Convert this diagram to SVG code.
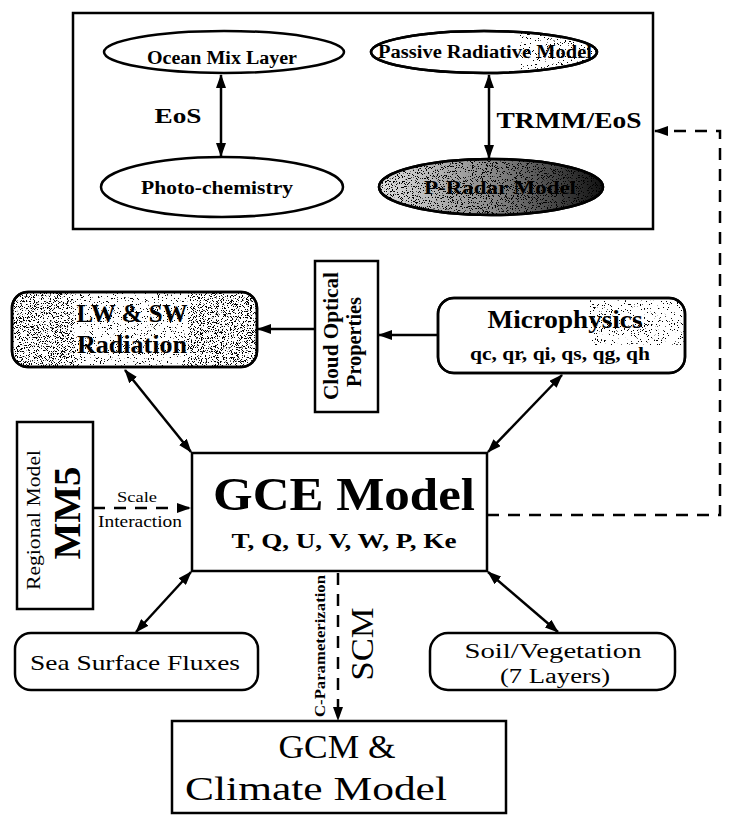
<svg xmlns="http://www.w3.org/2000/svg" width="731" height="815" viewBox="0 0 731 815">
<defs>
<marker id="ah" viewBox="0 0 14 10" refX="13" refY="5" markerWidth="14" markerHeight="10" markerUnits="userSpaceOnUse" orient="auto-start-reverse"><path d="M0,0 L14,5 L0,10 Z" fill="#000"/></marker>
<filter id="spkL" x="0" y="0" width="1" height="1"><feTurbulence type="fractalNoise" baseFrequency="1.3" numOctaves="2" seed="4"/><feColorMatrix type="matrix" values="0 0 0 0 0 0 0 0 0 0 0 0 0 0 0 -30 0 0 0 10.2"/><feComposite in2="SourceGraphic" operator="in"/></filter>
<filter id="spkD" x="0" y="0" width="1" height="1"><feTurbulence type="fractalNoise" baseFrequency="1.2" numOctaves="2" seed="7"/><feColorMatrix type="matrix" values="0 0 0 0 0 0 0 0 0 0 0 0 0 0 0 -30 0 0 0 12"/><feComposite in2="SourceGraphic" operator="in"/></filter>
<linearGradient id="pr" x1="0" y1="0" x2="1" y2="0"><stop offset="0" stop-color="#e0e0e0"/><stop offset="0.5" stop-color="#8a8a8a"/><stop offset="1" stop-color="#111"/></linearGradient>
<clipPath id="lwc"><rect x="12" y="292" width="245" height="75" rx="16"/></clipPath>
<clipPath id="mpc"><rect x="438" y="298" width="247" height="75" rx="16"/></clipPath>
<clipPath id="pac"><ellipse cx="484" cy="52" rx="113" ry="21"/></clipPath>
</defs>
<style>
.s{fill:#fff;stroke:#000;stroke-width:2.5}
.o{fill:none;stroke:#000;stroke-width:2.5}
.c{stroke:#000;stroke-width:2.5;fill:none}
.d{stroke-dasharray:12 9}
text{font-family:"Liberation Serif","Times New Roman",serif;fill:#000}
.bd{font-weight:bold}
</style>
<rect width="731" height="815" fill="#fff"/>

<g id="top-frame"><rect x="73" y="13" width="580" height="216" class="o"/></g>

<g id="ocean">
<ellipse cx="224" cy="52" rx="120" ry="21" class="s"/>
<text x="222" y="64" font-size="18" class="bd" text-anchor="middle" textLength="150" lengthAdjust="spacingAndGlyphs">Ocean Mix Layer</text>
</g>
<g id="photo">
<ellipse cx="222" cy="187" rx="121" ry="30" class="s"/>
<text x="217" y="194" font-size="18" class="bd" text-anchor="middle" textLength="152" lengthAdjust="spacingAndGlyphs">Photo-chemistry</text>
</g>
<g id="passive">
<ellipse cx="484" cy="52" rx="113" ry="21" class="s"/>
<rect x="520" y="30" width="80" height="45" fill="#fff" filter="url(#spkL)" clip-path="url(#pac)"/>
<ellipse cx="484" cy="52" rx="113" ry="21" class="o"/>
<text x="485" y="58" font-size="18" class="bd" text-anchor="middle" textLength="214" lengthAdjust="spacingAndGlyphs">Passive Radiative Model</text>
</g>
<g id="pradar">
<ellipse cx="491" cy="187" rx="112" ry="28" fill="url(#pr)" stroke="#000" stroke-width="2.5"/>
<ellipse cx="491" cy="187" rx="112" ry="28" fill="#fff" filter="url(#spkD)"/>
<ellipse cx="491" cy="187" rx="112" ry="28" class="o"/>
<text x="500" y="194" font-size="19" class="bd" text-anchor="middle" textLength="152" lengthAdjust="spacingAndGlyphs">P-Radar Model</text>
</g>
<text x="178" y="123" font-size="22" class="bd" text-anchor="middle" textLength="47" lengthAdjust="spacingAndGlyphs">EoS</text>
<text x="569" y="128" font-size="23" class="bd" text-anchor="middle" textLength="145" lengthAdjust="spacingAndGlyphs">TRMM/EoS</text>

<g id="lw">
<rect x="12" y="292" width="245" height="75" rx="16" class="s"/>
<g clip-path="url(#lwc)">
<rect x="12" y="292" width="245" height="75" fill="#fff" filter="url(#spkL)"/>
<rect x="12" y="292" width="62" height="75" fill="#fff" filter="url(#spkD)"/>
<rect x="188" y="292" width="69" height="75" fill="#fff" filter="url(#spkD)"/>
</g>
<rect x="12" y="292" width="245" height="75" rx="16" class="o"/>
<text x="132" y="322" font-size="25" class="bd" text-anchor="middle" textLength="111" lengthAdjust="spacingAndGlyphs">LW &amp; SW</text>
<text x="132" y="353" font-size="25" class="bd" text-anchor="middle" textLength="110" lengthAdjust="spacingAndGlyphs">Radiation</text>
</g>

<g id="cloud">
<rect x="315" y="261" width="63" height="151" class="s"/>
<text transform="translate(338,336) rotate(-90)" font-size="20" class="bd" text-anchor="middle" textLength="128" lengthAdjust="spacingAndGlyphs">Cloud Optical</text>
<text transform="translate(361,342) rotate(-90)" font-size="20" class="bd" text-anchor="middle" textLength="90" lengthAdjust="spacingAndGlyphs">Properties</text>
</g>

<g id="micro">
<rect x="438" y="298" width="247" height="75" rx="16" class="s"/>
<rect x="590" y="300" width="95" height="45" fill="#fff" filter="url(#spkL)" clip-path="url(#mpc)"/>
<rect x="438" y="298" width="247" height="75" rx="16" class="o"/>
<text x="565" y="328" font-size="26" class="bd" text-anchor="middle" textLength="155" lengthAdjust="spacingAndGlyphs">Microphysics</text>
<text x="560" y="360" font-size="18" class="bd" text-anchor="middle" textLength="180" lengthAdjust="spacingAndGlyphs">qc, qr, qi, qs, qg, qh</text>
</g>

<g id="mm5">
<rect x="17" y="422" width="76" height="187" class="s"/>
<text transform="translate(40,520) rotate(-90)" font-size="18" text-anchor="middle" textLength="140" lengthAdjust="spacingAndGlyphs">Regional Model</text>
<text transform="translate(80,513) rotate(-90)" font-size="38" class="bd" text-anchor="middle" textLength="93" lengthAdjust="spacingAndGlyphs">MM5</text>
</g>

<g id="gce">
<rect x="192" y="453" width="295" height="118" class="s"/>
<text x="344" y="510" font-size="46" class="bd" text-anchor="middle" textLength="262" lengthAdjust="spacingAndGlyphs">GCE Model</text>
<text x="344" y="548" font-size="20" class="bd" text-anchor="middle" textLength="225" lengthAdjust="spacingAndGlyphs">T, Q, U, V, W, P, Ke</text>
</g>

<g id="sea">
<rect x="15" y="633" width="243" height="57" rx="16" class="s"/>
<text x="135" y="670" font-size="21" text-anchor="middle" textLength="210" lengthAdjust="spacingAndGlyphs">Sea Surface Fluxes</text>
</g>

<g id="soil">
<rect x="430" y="633" width="245" height="57" rx="18" class="s"/>
<text x="553" y="658" font-size="20" text-anchor="middle" textLength="177" lengthAdjust="spacingAndGlyphs">Soil/Vegetation</text>
<text x="555" y="683" font-size="20" text-anchor="middle" textLength="110" lengthAdjust="spacingAndGlyphs">(7 Layers)</text>
</g>

<g id="gcm">
<rect x="172" y="721" width="334" height="92" class="s"/>
<text x="337" y="758" font-size="33" text-anchor="middle" textLength="117" lengthAdjust="spacingAndGlyphs">GCM &amp;</text>
<text x="316" y="800" font-size="33" text-anchor="middle" textLength="262" lengthAdjust="spacingAndGlyphs">Climate Model</text>
</g>

<g id="connectors">
<line x1="221" y1="75" x2="221" y2="156" class="c" marker-start="url(#ah)" marker-end="url(#ah)"/>
<line x1="489" y1="75" x2="489" y2="158" class="c" marker-start="url(#ah)" marker-end="url(#ah)"/>
<path d="M487,515 H720 V131 H655" class="c d" marker-end="url(#ah)"/>
<line x1="438" y1="335" x2="379" y2="335" class="c" marker-end="url(#ah)"/>
<line x1="315" y1="329" x2="258" y2="329" class="c" marker-end="url(#ah)"/>
<line x1="125" y1="370" x2="191" y2="452" class="c" marker-start="url(#ah)" marker-end="url(#ah)"/>
<line x1="562" y1="375" x2="488" y2="452" class="c" marker-start="url(#ah)" marker-end="url(#ah)"/>
<path d="M93,508 H190" class="c d" marker-end="url(#ah)"/>
<line x1="191" y1="572" x2="136" y2="632" class="c" marker-start="url(#ah)" marker-end="url(#ah)"/>
<line x1="488" y1="572" x2="558" y2="632" class="c" marker-start="url(#ah)" marker-end="url(#ah)"/>
<path d="M338,573 V720" class="c d" marker-end="url(#ah)"/>
<text x="137" y="502" font-size="15" text-anchor="middle" textLength="40" lengthAdjust="spacingAndGlyphs">Scale</text>
<text x="140" y="527" font-size="16" text-anchor="middle" textLength="84" lengthAdjust="spacingAndGlyphs">Interaction</text>
<text transform="translate(325,646) rotate(-90)" font-size="14" class="bd" text-anchor="middle" textLength="142" lengthAdjust="spacingAndGlyphs">C-Parameterization</text>
<text transform="translate(373,644) rotate(-90)" font-size="32" text-anchor="middle" textLength="73" lengthAdjust="spacingAndGlyphs">SCM</text>
</g>
</svg>
